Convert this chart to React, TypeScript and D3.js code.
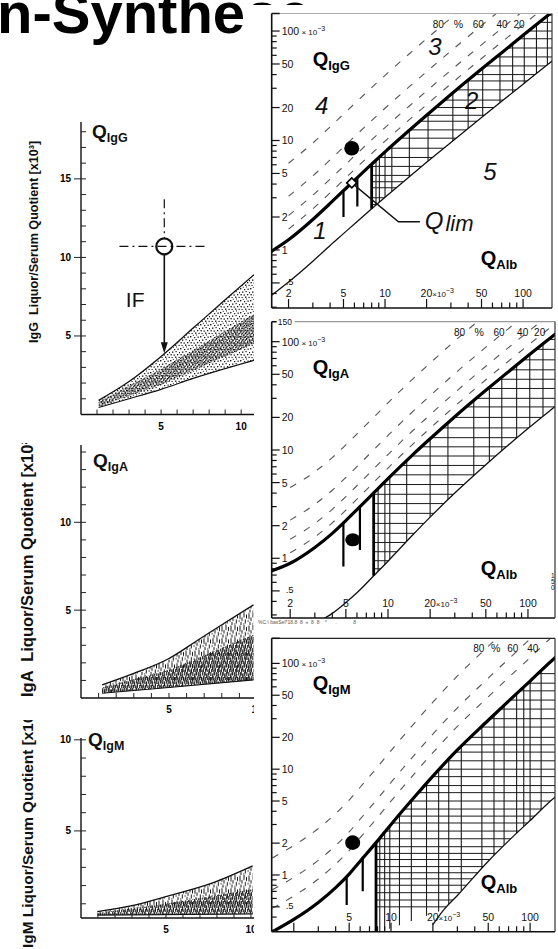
import React, { useEffect, useRef } from 'react';
import * as d3 from 'd3';

// ---------- left panels: linear quotients, x10^3 ----------
// edges of the scatter clouds, [QAlb, Q]
const igGBandUpper = [[1.1, 0.9], [3, 2.1], [5, 3.7], [7, 5.5], [9, 7.3], [10.8, 8.9]];
const igGBandLower = [[1.1, 0.45], [3, 1.0], [5, 1.6], [7, 2.3], [10.8, 3.45]];
const igGCoreUpper = [[1.1, 0.8], [5, 2.9], [10.8, 6.4]];
const igGCoreLower = [[1.1, 0.5], [5, 1.9], [10.8, 4.5]];

const igABandUpper = [[1.2, 0.75], [3, 1.4], [5, 2.25], [6.5, 3.2], [8.2, 4.3], [9.8, 5.3]];
const igABandLower = [[1.2, 0.27], [5, 0.6], [9.8, 1.03]];
const igACoreUpper = [[1.2, 0.6], [5, 1.6], [9.8, 3.6]];

const igMBandUpper = [[0.96, 0.57], [3, 0.9], [4.98, 1.39], [7.7, 2.13], [10.1, 3.08]];
const igMBandLower = [[0.96, 0.38], [10.1, 0.44]];
const igMCoreUpper = [[0.96, 0.5], [5, 1.0], [10.1, 1.8]];

// intrathecal fraction example in the IgG panel
const ifPoint = [5.2, 10.7];
const ifArrowEnd = 3.9;

// ---------- right panels: Reibergrams, log-log, x10^-3 ----------
const qAlb = [1.4, 2, 3, 4, 5, 6, 8, 10, 15, 20, 30, 50, 70, 100, 150, 175];
const igGLim = [0.92, 1.24, 1.9, 2.66, 3.48, 4.33, 6.08, 7.88, 12.4, 17.0, 26.3, 44.9, 63.4, 91.3, 137.8, 161];
const igGLow = [0.36, 0.51, 0.79, 1.1, 1.41, 1.73, 2.38, 3.03, 4.67, 6.32, 9.6, 16.2, 22.8, 32.7, 49.2, 57.4];
const igALim = [0.75, 0.9, 1.26, 1.7, 2.23, 2.81, 4.08, 5.45, 9.03, 12.7, 20.3, 35.6, 50.9, 74.0, 112.4, 131.7];
const igALow = [0.18, 0.2, 0.25, 0.31, 0.39, 0.48, 0.7, 0.94, 1.64, 2.4, 4.0, 7.3, 10.7, 15.8, 24.2, 28.5];
const igMLim = [0.29, 0.38, 0.55, 0.76, 1.02, 1.35, 2.1, 3.0, 5.6, 8.6, 15.2, 29, 44, 68, 112, 132];
const igMLowAlb = [20, 24, 30, 50, 70, 100, 150, 175];
const igMLow = [0.34, 0.47, 0.64, 1.35, 2.1, 3.27, 5.4, 6.3];
const igMHatchFloor = [[7.8, 0.47], [24, 0.47], [30, 0.64], [50, 1.35], [70, 2.1], [100, 3.27], [150, 5.4], [175, 6.3]];

const fractionsFull = [80, 60, 40, 20];
const fractionsIgM = [80, 60, 40];

// reference bars [QAlb, top, bottom]
const igGRefs = [[5, 3.48, 2.0], [6.3, 4.55, 2.5], [8, 6.08, 2.38]];
const igARefs = [[4.8, 2.1, 0.84], [6.3, 3.0, 1.19], [7.9, 4.0, 0.69]];
const igMRefs = [[4.8, 0.97, 0.52], [6.26, 1.49, 0.7], [7.8, 2.05, 0.28]];

const igGGridX = [8.6, 9.1, 10, 11.2, 15, 20.5, 31, 40, 51, 68, 84, 102, 125, 150];
const igGGridY = [2.6, 3, 3.7, 4.2, 4.8, 5.8, 7, 8.5, 10.5, 12.5, 15, 17, 20, 23.4, 29, 35, 40, 48, 58, 70, 85, 100, 120, 140];
const igAGridX = [8.5, 9.5, 10.3, 13.6, 20, 26.8, 41, 53, 65, 83, 103, 128];
const igAGridY = [0.8, 0.95, 1.15, 1.4, 1.7, 2.1, 2.6, 3.2, 3.9, 4.8, 5.9, 7.2, 8.8, 10.7, 13, 16, 20, 25, 30, 37, 45, 55, 68, 85, 105];
const igMGridX = [8.3, 9, 9.8, 11.5, 14, 18, 22, 26, 32, 45, 55, 65, 80, 90, 100, 120];
const igMGridY = [0.5, 0.58, 0.68, 0.8, 0.92, 1.05, 1.2, 1.4, 1.6, 1.85, 2.2, 2.6, 3.1, 3.6, 4.2, 5, 6, 7, 8.5, 10, 12, 14.5, 17, 20, 25, 30, 37, 45, 55, 65, 80];

// patient samples
const igGSample = [5.74, 8.5];
const igGQlimPoint = [5.74, 4.1];
const igASample = [5.6, 1.48];
const igMSample = [5.3, 2.02];

const yLabelValues = [100, 50, 20, 10, 5, 2, 1, 0.5];
const xLabelValues = [2, 5, 10, 20, 50, 100];

// region numbers in the IgG Reibergram [label, QAlb, Q]
const igGRegions = [['1', 3.38, 1.52], ['2', 42.5, 23.4], ['3', 23, 71.6], ['4', 3.48, 21.1], ['5', 57.6, 5.16]];

const SANS = 'Liberation Sans, Arial, Helvetica, sans-serif';
const zip = (xs, ys) => xs.map((v, i) => [v, ys[i]]);

// texture tiles for the dot clouds: [x, y, w, h]
const speckTile = [[0, 0, 1.4, 1.4], [4, 1, 1.3, 1.2], [7.5, 0.5, 1.2, 1.4], [2, 3.5, 1.4, 1.3], [5.5, 3, 1.2, 1.2],
  [9, 4, 1, 1.3], [0.5, 6, 1.3, 1.4], [3.5, 6.5, 1.4, 1.2], [7, 6, 1.3, 1.3], [1.5, 9, 1.2, 1], [5, 8.5, 1.4, 1.4],
  [8.5, 8.8, 1.2, 1.2], [6, 10.5, 1, 1], [2.8, 10.8, 1, 1]];
const denseTile = [[0, 0, 1.5, 1.5], [2.5, 0.5, 1.4, 1.3], [4.5, 1.5, 1.3, 1.5], [1, 2.5, 1.5, 1.3], [3.3, 3, 1.4, 1.4],
  [0.3, 4.5, 1.3, 1.5], [2.2, 5, 1.5, 1.2], [4.6, 4.5, 1.4, 1.5]];
const streakTile = [[0.5, 0, 1, 5], [3, 2, 1, 4], [5.5, 0.5, 1, 6], [7.5, 5, 1, 3.5], [1.8, 7, 1, 4], [4.5, 8, 1.2, 1.2],
  [6.5, 9.5, 1, 3], [0.2, 11, 1.2, 1]];
const streakDenseTile = [[0.3, 0, 1.1, 4], [2.2, 1.5, 1, 4.5], [4.2, 0, 1.1, 3.5], [1.2, 5, 1.1, 3], [3.3, 5.5, 1.2, 2.5],
  [5.2, 4.2, 0.8, 3.8]];

const leftPanels = [
  {
    name: 'IgG', xDom: [0, 10.8], yDom: [0, 18.62], top: 122, bottom: 414.5,
    yTicks: d3.range(1, 19), yLabels: [5, 10, 15], xLabels: [5, 10],
    upper: igGBandUpper, lower: igGBandLower, coreU: igGCoreUpper, coreL: igGCoreLower,
    pat: 'speck', corePat: 'speckDense',
    label: 'IgG  Liquor/Serum Quotient [x10³]', labelSize: 12.6, labelX: 38, labelY: 343, labelClip: 0,
    qX: 92, qY: 138,
  },
  {
    name: 'IgA', xDom: [0, 9.83], yDom: [0, 14.4], top: 445, bottom: 698,
    yTicks: d3.range(1, 15), yLabels: [5, 10], xLabels: [5, 10],
    upper: igABandUpper, lower: igABandLower, coreU: igACoreUpper, coreL: igABandLower,
    pat: 'streak', corePat: 'streakDense',
    label: 'IgA  Liquor/Serum Quotient [x10²]', labelSize: 16.5, labelX: 33, labelY: 697, labelClip: 443,
    qX: 93, qY: 467,
  },
  {
    name: 'IgM', xDom: [0, 10.18], yDom: [0.22, 10.1], top: 738, bottom: 918,
    yTicks: d3.range(1, 11), yLabels: [5, 10], xLabels: [5, 10],
    upper: igMBandUpper, lower: igMBandLower, coreU: igMCoreUpper, coreL: igMBandLower,
    pat: 'streak', corePat: 'streakDense',
    label: 'IgM Liquor/Serum Quotient [x10³]', labelSize: 15.4, labelX: 33, labelY: 948, labelClip: 720,
    qX: 88, qY: 746,
  },
];

const rightPanels = [
  {
    name: 'IgG', x0: 271.7, x1: 552, y0: 13.5, y1: 308, xDom: [1.51, 162], yDom: [0.295, 144.6],
    lim: zip(qAlb, igGLim), low: zip(qAlb, igGLow), floor: zip(qAlb, igGLow),
    refs: igGRefs, gridX: igGGridX, gridY: igGGridY, fractions: fractionsFull, dashFrom: 2,
    xLabels: xLabelValues, topColor: '#aaa', sample: igGSample,
  },
  {
    name: 'IgA', x0: 271.7, x1: 555, y0: 321.7, y1: 618, xDom: [1.476, 156], yDom: [0.281, 153],
    lim: zip(qAlb, igALim), low: zip(qAlb, igALow), floor: zip(qAlb, igALow),
    refs: igARefs, gridX: igAGridX, gridY: igAGridY, fractions: fractionsFull, dashFrom: 2,
    xLabels: xLabelValues, topColor: '#999', sample: igASample,
  },
  {
    name: 'IgM', x0: 271.7, x1: 555, y0: 638.3, y1: 931.7, xDom: [1.387, 151], yDom: [0.291, 172.6],
    lim: zip(qAlb, igMLim), low: zip(igMLowAlb, igMLow), floor: igMHatchFloor,
    refs: igMRefs, gridX: igMGridX, gridY: igMGridY, fractions: fractionsIgM, dashFrom: 1.4,
    xLabels: xLabelValues.slice(1), topColor: '#222', sample: igMSample,
  },
];

// QAlb where a rising curve reaches q (log-log interpolation)
function crossAt(points, q) {
  for (let i = 0; i < points.length - 1; i++) {
    const [xa, ya] = points[i];
    const [xb, yb] = points[i + 1];
    if (ya <= q && yb >= q) {
      const t = (Math.log(q) - Math.log(ya)) / (Math.log(yb) - Math.log(ya));
      return Math.exp(Math.log(xa) + t * (Math.log(xb) - Math.log(xa)));
    }
  }
  return points[points.length - 1][0];
}

const App = () => {
  const ref = useRef(null);

  useEffect(() => {
    const svg = d3.select(ref.current);
    svg.selectAll('*').remove();
    const defs = svg.append('defs');

    const makePattern = (id, w, h, rects, color) => {
      const p = defs.append('pattern').attr('id', id).attr('width', w).attr('height', h)
        .attr('patternUnits', 'userSpaceOnUse');
      rects.forEach(([x, y, rw, rh]) => p.append('rect').attr('x', x).attr('y', y)
        .attr('width', rw).attr('height', rh).attr('fill', color));
    };
    makePattern('speck', 10, 12, speckTile, '#1a1a1a');
    makePattern('speckDense', 6, 6.5, denseTile, '#111');
    makePattern('streak', 9, 12.5, streakTile, '#1a1a1a');
    makePattern('streakDense', 6, 8, streakDenseTile, '#111');

    defs.append('clipPath').attr('id', 'leftClip').append('rect')
      .attr('x', 0).attr('y', 0).attr('width', 254).attr('height', 949);
    // only the top few pixels of the title's tail peek out above the Reibergram
    defs.append('clipPath').attr('id', 'titleTail').append('rect')
      .attr('x', 240).attr('y', 0).attr('width', 80).attr('height', 5);

    svg.append('rect').attr('width', 558).attr('height', 949).attr('fill', '#fff');

    // title fragment
    svg.append('text').attr('x', -3).attr('y', 33).attr('font-family', SANS)
      .attr('font-weight', 'bold').attr('font-size', 58).attr('fill', '#000').text('n-Synthe');
    svg.append('g').attr('clip-path', 'url(#titleTail)').append('text').attr('x', 246).attr('y', 33)
      .attr('font-family', SANS).attr('font-weight', 'bold').attr('font-size', 58).attr('fill', '#000').text('se');

    // ---------- left scatter panels ----------
    leftPanels.forEach((p) => {
      const x = d3.scaleLinear().domain(p.xDom).range([81, 254]);
      const y = d3.scaleLinear().domain(p.yDom).range([p.bottom, p.top]);
      const g = svg.append('g').attr('clip-path', 'url(#leftClip)');
      const poly = d3.line().x((d) => x(d[0])).y((d) => y(d[1]));
      const smooth = d3.line().x((d) => x(d[0])).y((d) => y(d[1])).curve(d3.curveMonotoneX);

      g.append('path').attr('d', poly([...p.upper, ...p.lower.slice().reverse()]) + 'Z')
        .attr('fill', `url(#${p.pat})`);
      g.append('path').attr('d', poly([...p.coreU, ...p.coreL.slice().reverse()]) + 'Z')
        .attr('fill', `url(#${p.corePat})`);
      g.append('path').attr('d', smooth(p.upper)).attr('fill', 'none').attr('stroke', '#111').attr('stroke-width', 1.3);
      g.append('path').attr('d', smooth(p.lower)).attr('fill', 'none').attr('stroke', '#111').attr('stroke-width', 1.1);

      // axes
      g.append('line').attr('x1', 81).attr('x2', 81).attr('y1', p.top).attr('y2', p.bottom)
        .attr('stroke', '#111').attr('stroke-width', 1.4);
      g.append('line').attr('x1', 81).attr('x2', 256).attr('y1', p.bottom).attr('y2', p.bottom)
        .attr('stroke', '#111').attr('stroke-width', 1.4);
      p.yTicks.forEach((t) => {
        const major = p.yLabels.includes(t);
        g.append('line').attr('x1', major ? 74 : 81).attr('x2', 86).attr('y1', y(t)).attr('y2', y(t))
          .attr('stroke', '#222').attr('stroke-width', 1);
        if (major) {
          g.append('text').attr('x', 71).attr('y', y(t) + 3.5).attr('text-anchor', 'end')
            .attr('font-family', SANS).attr('font-weight', 'bold').attr('font-size', 10).text(t);
        }
      });
      d3.range(1, Math.floor(p.xDom[1]) + 1).forEach((t) => {
        g.append('line').attr('x1', x(t)).attr('x2', x(t)).attr('y1', p.bottom).attr('y2', p.bottom - 5)
          .attr('stroke', '#222').attr('stroke-width', 1);
      });
      p.xLabels.forEach((t) => {
        g.append('text').attr('x', x(t)).attr('y', p.bottom + 15).attr('text-anchor', 'middle')
          .attr('font-family', SANS).attr('font-weight', 'bold').attr('font-size', 10).text(t);
      });

      const q = g.append('text').attr('x', p.qX).attr('y', p.qY).attr('font-family', SANS)
        .attr('font-weight', 'bold').attr('font-size', 19).attr('fill', '#111');
      q.append('tspan').text('Q');
      q.append('tspan').attr('font-size', 12.5).attr('dy', 4).text(p.name);

      // rotated axis title, clipped where the scan was cut
      const cid = `lab-${p.name}`;
      defs.append('clipPath').attr('id', cid).append('rect')
        .attr('x', 0).attr('y', p.labelClip).attr('width', 80).attr('height', 949);
      svg.append('g').attr('clip-path', `url(#${cid})`).append('text')
        .attr('transform', `translate(${p.labelX},${p.labelY}) rotate(-90)`)
        .attr('font-family', SANS).attr('font-weight', 'bold').attr('font-size', p.labelSize)
        .attr('fill', '#111').style('white-space', 'pre').text(p.label);

      if (p.name === 'IgG') {
        const cx = x(ifPoint[0]);
        const cy = y(ifPoint[1]);
        g.append('line').attr('x1', x(2.4)).attr('x2', x(7.8)).attr('y1', cy).attr('y2', cy)
          .attr('stroke', '#111').attr('stroke-width', 1.3).attr('stroke-dasharray', '9,4,2,4');
        g.append('line').attr('x1', cx).attr('x2', cx).attr('y1', y(13.7)).attr('y2', cy - 8)
          .attr('stroke', '#111').attr('stroke-width', 1.2).attr('stroke-dasharray', '9,4,2,4');
        g.append('circle').attr('cx', cx).attr('cy', cy).attr('r', 8).attr('fill', 'none')
          .attr('stroke', '#111').attr('stroke-width', 2.2);
        const tipY = y(ifArrowEnd);
        g.append('line').attr('x1', cx).attr('x2', cx).attr('y1', cy + 8).attr('y2', tipY - 8)
          .attr('stroke', '#111').attr('stroke-width', 1.6);
        g.append('path').attr('d', `M${cx - 3.5},${tipY - 11}L${cx + 3.5},${tipY - 11}L${cx},${tipY}Z`).attr('fill', '#111');
        g.append('text').attr('x', x(2.8)).attr('y', y(6.85)).attr('font-family', SANS)
          .attr('font-size', 21).attr('fill', '#111').text('IF');
      }
    });

    // ---------- right Reibergrams ----------
    rightPanels.forEach((p) => {
      const x = d3.scaleLog().domain(p.xDom).range([p.x0, p.x1]);
      const y = d3.scaleLog().domain(p.yDom).range([p.y1, p.y0]);
      const frameId = `frame-${p.name}`;
      defs.append('clipPath').attr('id', frameId).append('rect')
        .attr('x', p.x0).attr('y', p.y0).attr('width', p.x1 - p.x0).attr('height', p.y1 - p.y0);
      const g = svg.append('g');
      const inner = g.append('g').attr('clip-path', `url(#${frameId})`);
      const smooth = d3.line().x((d) => x(d[0])).y((d) => y(d[1])).curve(d3.curveMonotoneX);
      const poly = d3.line().x((d) => x(d[0])).y((d) => y(d[1]));

      // cross-hatched region between the limit curves
      const thick = p.refs[p.refs.length - 1];
      const upper = [[thick[0], thick[1]], ...p.lim.filter((d) => d[0] > thick[0] + 0.3)];
      const lower = [[thick[0], thick[2]], ...p.floor.filter((d) => d[0] > thick[0] + 0.3)];
      const hatchId = `hatch-${p.name}`;
      defs.append('clipPath').attr('id', hatchId).append('path')
        .attr('d', poly([...upper, ...lower.slice().reverse()]) + 'Z');
      const hatch = inner.append('g').attr('clip-path', `url(#${hatchId})`);
      p.gridX.forEach((v) => hatch.append('line').attr('x1', x(v)).attr('x2', x(v))
        .attr('y1', p.y0).attr('y2', p.y1).attr('stroke', '#1a1a1a').attr('stroke-width', 1.1));
      p.gridY.forEach((v) => hatch.append('line').attr('x1', p.x0).attr('x2', p.x1)
        .attr('y1', y(v)).attr('y2', y(v)).attr('stroke', '#1a1a1a').attr('stroke-width', 1));

      // intrathecal fraction isolines
      p.fractions.forEach((f) => {
        const pts = p.lim.filter((d) => d[0] >= p.dashFrom).map((d) => [d[0], d[1] / (1 - f / 100)]);
        inner.append('path').attr('d', smooth(pts)).attr('fill', 'none').attr('stroke', '#555')
          .attr('stroke-width', 1.1).attr('stroke-dasharray', '7,9');
      });

      inner.append('path').attr('d', smooth(p.low)).attr('fill', 'none').attr('stroke', '#111').attr('stroke-width', 1.3);
      inner.append('path').attr('d', smooth(p.lim)).attr('fill', 'none').attr('stroke', '#000').attr('stroke-width', 3.2);

      p.refs.forEach((r, i) => {
        inner.append('line').attr('x1', x(r[0])).attr('x2', x(r[0])).attr('y1', y(r[1])).attr('y2', y(r[2]))
          .attr('stroke', '#000').attr('stroke-width', i === p.refs.length - 1 ? 2.8 : 2.2);
      });

      // frame
      g.append('line').attr('x1', p.x0).attr('x2', p.x1).attr('y1', p.y0).attr('y2', p.y0)
        .attr('stroke', p.topColor).attr('stroke-width', 1.2);
      g.append('line').attr('x1', p.x0).attr('x2', p.x0 + 8).attr('y1', p.y0).attr('y2', p.y0)
        .attr('stroke', '#111').attr('stroke-width', 1.5);
      g.append('line').attr('x1', p.x0).attr('x2', p.x0).attr('y1', p.y0).attr('y2', p.y1)
        .attr('stroke', '#111').attr('stroke-width', 1.6);
      g.append('line').attr('x1', p.x0).attr('x2', p.x1).attr('y1', p.y1).attr('y2', p.y1)
        .attr('stroke', '#111').attr('stroke-width', 1.6);
      g.append('line').attr('x1', p.x1).attr('x2', p.x1).attr('y1', p.y0).attr('y2', p.y1)
        .attr('stroke', '#333').attr('stroke-width', 1.2);

      // log ticks
      const logTicks = (dom) => [0.1, 1, 10, 100].flatMap((dec) => d3.range(1, 10).map((m) => +(m * dec).toPrecision(3)))
        .filter((v) => v >= dom[0] && v <= dom[1]);
      logTicks(p.yDom).forEach((v) => {
        const major = yLabelValues.includes(v);
        g.append('line').attr('x1', p.x0).attr('x2', p.x0 + (major ? 8 : 5)).attr('y1', y(v)).attr('y2', y(v))
          .attr('stroke', '#111').attr('stroke-width', 1.2);
      });
      logTicks(p.xDom).forEach((v) => {
        const major = xLabelValues.includes(v);
        g.append('line').attr('x1', x(v)).attr('x2', x(v)).attr('y1', p.y1).attr('y2', p.y1 - (major ? 9 : 5.5))
          .attr('stroke', '#111').attr('stroke-width', 1.2);
      });

      const txt = (tx, ty, s, size = 10.5) => g.append('text').attr('x', tx).attr('y', ty)
        .attr('font-family', SANS).attr('font-size', size).attr('fill', '#111').text(s);

      yLabelValues.forEach((v) => {
        if (v === 100) {
          const t = txt(p.x0 + 10, y(v) + 4, '');
          t.append('tspan').text('100');
          t.append('tspan').attr('font-size', 8).text(' × 10');
          t.append('tspan').attr('font-size', 7).attr('dy', -4).text('−3');
        } else if (v < 1) {
          txt(p.x0 + 14, y(v) + 2, '.5', 9.5);
        } else {
          txt(p.x0 + 10, y(v) + 4, String(v));
        }
      });
      if (p.name === 'IgA') {
        g.append('rect').attr('x', p.x0 + 5).attr('y', p.y0 - 3).attr('width', 18).attr('height', 6).attr('fill', '#fff');
        txt(p.x0 + 6, p.y0 + 3, '150', 8.5);
        ['1', '5', '0'].forEach((c, i) => txt(p.x1 - 4, p.y1 - 40 + i * 6, c, 6.5));
      }
      p.xLabels.forEach((v) => {
        const t = txt(x(v), p.y1 - 11, '').attr('text-anchor', v === 20 ? 'start' : 'middle');
        if (v === 20) {
          t.attr('x', x(v) - 6);
          t.append('tspan').text('20');
          t.append('tspan').attr('font-size', 8).text('×10');
          t.append('tspan').attr('font-size', 7).attr('dy', -4).text('−3');
        } else {
          t.text(String(v));
        }
      });

      // fraction labels at the top
      const labelX = p.fractions.map((f) => {
        const pts = p.lim.map((d) => [d[0], d[1] / (1 - f / 100)]);
        return Math.min(x(crossAt(pts, p.yDom[1])) - 18, p.x1 - 12);
      });
      p.fractions.forEach((f, i) => txt(labelX[i], p.y0 + 14, String(f), 10).attr('text-anchor', 'middle'));
      txt((labelX[0] + labelX[1]) / 2, p.y0 + 14, '%', 10.5).attr('text-anchor', 'middle');

      // titles
      const qt = g.append('text').attr('x', p.x0 + 41).attr('y', p.y0 + 52).attr('font-family', SANS)
        .attr('font-weight', 'bold').attr('font-size', 20).attr('fill', '#000');
      qt.append('tspan').text('Q');
      qt.append('tspan').attr('font-size', 13).attr('dy', 4).text(p.name);
      const qa = g.append('text').attr('x', p.x0 + 209).attr('y', p.y1 - 43).attr('font-family', SANS)
        .attr('font-weight', 'bold').attr('font-size', 20).attr('fill', '#000');
      qa.append('tspan').text('Q');
      qa.append('tspan').attr('font-size', 13).attr('dy', 4).text('Alb');

      // patient sample
      inner.append('ellipse').attr('cx', x(p.sample[0])).attr('cy', y(p.sample[1]))
        .attr('rx', 7.5).attr('ry', p.name === 'IgA' ? 6.5 : 7.3).attr('fill', '#000');

      if (p.name === 'IgG') {
        const mx = x(igGQlimPoint[0]);
        const my = y(igGQlimPoint[1]);
        const ex = x(12.5);
        const ey = y(1.81);
        g.append('path').attr('d', `M${mx},${my}L${ex},${ey}L${x(17.9)},${ey}`).attr('fill', 'none')
          .attr('stroke', '#111').attr('stroke-width', 1.4);
        g.append('path').attr('d', `M${mx - 5},${my}L${mx},${my - 5}L${mx + 5},${my}L${mx},${my + 5}Z`)
          .attr('fill', '#fff').attr('stroke', '#000').attr('stroke-width', 1.6);
        const ql = g.append('text').attr('x', x(19.4)).attr('y', ey + 7).attr('font-family', SANS)
          .attr('font-style', 'italic').attr('font-size', 24).attr('fill', '#111');
        ql.append('tspan').text('Q');
        ql.append('tspan').attr('font-size', 22).attr('dx', 2).attr('dy', 2).text('lim');

        igGRegions.forEach(([s, a, b]) => {
          g.append('text').attr('x', x(a)).attr('y', y(b)).attr('text-anchor', 'middle')
            .attr('dominant-baseline', 'central').attr('font-family', SANS).attr('font-style', 'italic')
            .attr('font-size', 24).attr('fill', '#111').text(s);
        });
      }
    });

    // scanner residue between the lower panels
    svg.append('text').attr('x', 258).attr('y', 624).attr('font-family', SANS).attr('font-size', 5)
      .attr('fill', '#555').style('white-space', 'pre')
      .text('%C:\\ basSel*18.8  8  »  8  8    *      .            8');
  }, []);

  return (
    <svg ref={ref} width={558} height={949}
      style={{ position: 'absolute', left: 0, top: 0, background: '#fff' }} />
  );
};

export default App;
